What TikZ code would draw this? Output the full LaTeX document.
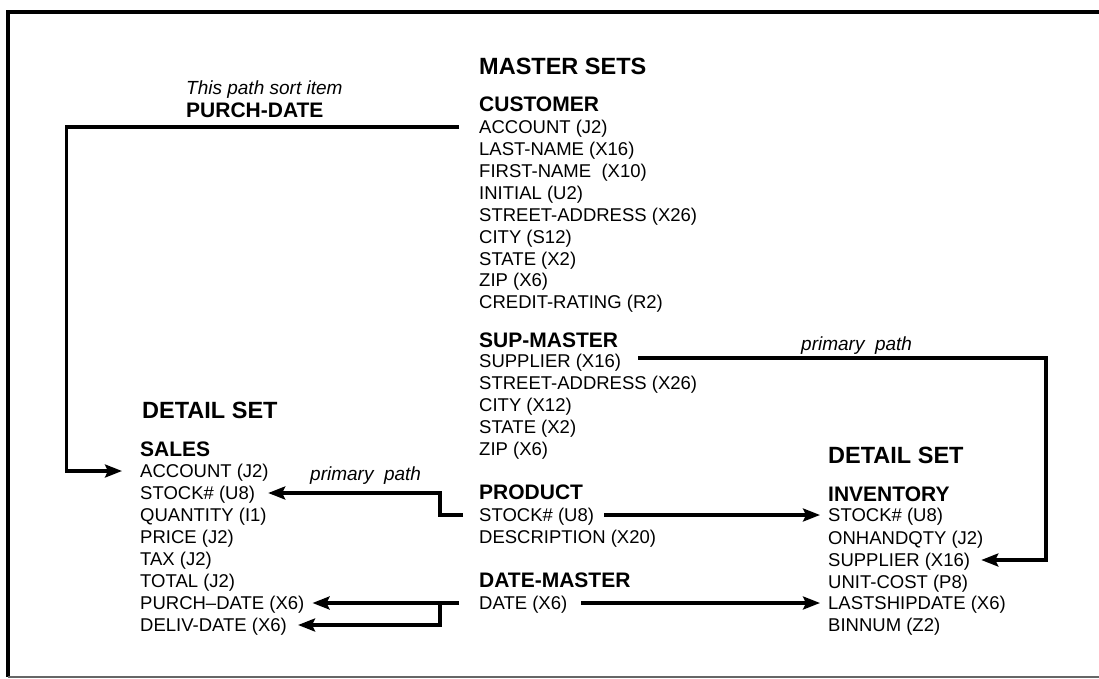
\documentclass[tikz,border=0pt]{standalone}
\usepackage{fontspec}
\setmainfont{Liberation Sans}
\usetikzlibrary{calc,arrows.meta}
\begin{document}
\begin{tikzpicture}[x=1pt,y=-1pt,
  row/.style={anchor=west,inner sep=0pt,text height=13.2pt,text depth=0pt,font=\fontsize{18.5}{22}\selectfont},
  sub/.style={anchor=west,inner sep=0pt,text height=15pt,text depth=0pt,font=\fontsize{21}{25}\selectfont\bfseries},
  head/.style={anchor=west,inner sep=0pt,text height=16.8pt,text depth=0pt,font=\fontsize{23.5}{28}\selectfont\bfseries},
  note/.style={anchor=west,inner sep=0pt,text height=13.6pt,text depth=0pt,font=\fontsize{19}{23}\selectfont\itshape},
  conn/.style={line width=3.2pt},
  arr/.style={conn,-{Stealth[length=17pt,width=13pt,inset=3pt]}},
  framel/.style={line width=3.5pt}]
\useasboundingbox (0,0) rectangle (1099,679);
\fill[white] (0,0) rectangle (1099,679);
% frame
\draw[framel] (8,677) -- (8,12) -- (1099,12);
\draw[line width=1.8pt,black!60] (8,677) -- (1099,677);

% master sets
\node[head] (ms) at (479,66) {MASTER SETS};
\node[note] (sortnote) at (186,88) {This path sort item};
\node[sub] (sortitem) at (186,110) {PURCH-DATE};

\node[sub] (cust) at (479,104) {CUSTOMER};
\node[row] (cacc) at (479,127) {ACCOUNT (J2)};
\node[row] (clast) at (479,148.9) {LAST-NAME (X16)};
\node[row] (cfirst) at (479,170.8) {FIRST-NAME\ \ (X10)};
\node[row] (cinit) at (479,192.7) {INITIAL (U2)};
\node[row] (cstreet) at (479,214.6) {STREET-ADDRESS (X26)};
\node[row] (ccity) at (479,236.5) {CITY (S12)};
\node[row] (cstate) at (479,258.4) {STATE (X2)};
\node[row] (czip) at (479,280.3) {ZIP (X6)};
\node[row] (ccredit) at (479,302.2) {CREDIT-RATING (R2)};

\node[sub] (supm) at (479,340) {SUP-MASTER};
\node[row] (ssup) at (479,361) {SUPPLIER (X16)};
\node[row] (sstreet) at (479,383) {STREET-ADDRESS (X26)};
\node[row] (scity) at (479,405) {CITY (X12)};
\node[row] (sstate) at (479,427) {STATE (X2)};
\node[row] (szip) at (479,449) {ZIP (X6)};

\node[sub] (prod) at (479,492) {PRODUCT};
\node[row] (pstock) at (479,515) {STOCK\# (U8)};
\node[row] (pdesc) at (479,537) {DESCRIPTION (X20)};

\node[sub] (datem) at (479,580) {DATE-MASTER};
\node[row] (dte) at (479,603) {DATE (X6)};

% detail set left
\node[head] (dsl) at (142,410) {DETAIL SET};
\node[sub] (sales) at (140,449) {SALES};
\node[row] (sacc) at (140,471) {ACCOUNT (J2)};
\node[row] (sstock) at (140,493) {STOCK\# (U8)};
\node[row] (squant) at (140,515) {QUANTITY (I1)};
\node[row] (sprice) at (140,537) {PRICE (J2)};
\node[row] (stax) at (140,559) {TAX (J2)};
\node[row] (stotal) at (140,581) {TOTAL (J2)};
\node[row] (spurch) at (140,603) {PURCH--DATE (X6)};
\node[row] (sdeliv) at (140,625) {DELIV-DATE (X6)};

% detail set right
\node[head] (dsr) at (828,455) {DETAIL SET};
\node[sub] (inv) at (828,494) {INVENTORY};
\node[row] (istock) at (828,515) {STOCK\# (U8)};
\node[row] (ionhand) at (828,538) {ONHANDQTY (J2)};
\node[row] (isup) at (828,560) {SUPPLIER (X16)};
\node[row] (iunit) at (828,582) {UNIT-COST (P8)};
\node[row] (ilast) at (828,603) {LASTSHIPDATE (X6)};
\node[row] (ibin) at (828,625) {BINNUM (Z2)};

% labels
\node[note] (pp1) at (310,474) {primary\ \ path};
\node[note] (pp2) at (801,344) {primary\ \ path};

% junction coordinates
\coordinate (jL) at (66.6,0);
\coordinate (jM) at (440,0);
\coordinate (jR) at (1046,0);

% connectors
\coordinate (a1) at ($(cacc.west)+(-20,0)$);
\draw[arr] (a1) -- (a1 -| jL) |- ($(sacc.west)+(-18,0)$);

\coordinate (a2) at ($(pstock.west)+(-16,0)$);
\draw[arr] (a2) -- (a2 -| jM) |- ($(sstock.east)+(13,0)$);

\draw[arr] ($(pstock.east)+(10,0)$) -- ($(istock.west)+(-8,0)$);
\draw[arr] ($(dte.east)+(14,0)$) -- ($(ilast.west)+(-8,0)$);

\coordinate (a3) at ($(dte.west)+(-20,0)$);
\draw[arr] (a3) -- ($(spurch.east)+(8,0)$);
\draw[arr] (a3 -| jM) |- ($(sdeliv.east)+(11,0)$);

\coordinate (a4) at ($(ssup.east)+(17,-3)$);
\draw[arr] (a4) -- (a4 -| jR) |- ($(isup.east)+(11,0)$);
\end{tikzpicture}
\end{document}
